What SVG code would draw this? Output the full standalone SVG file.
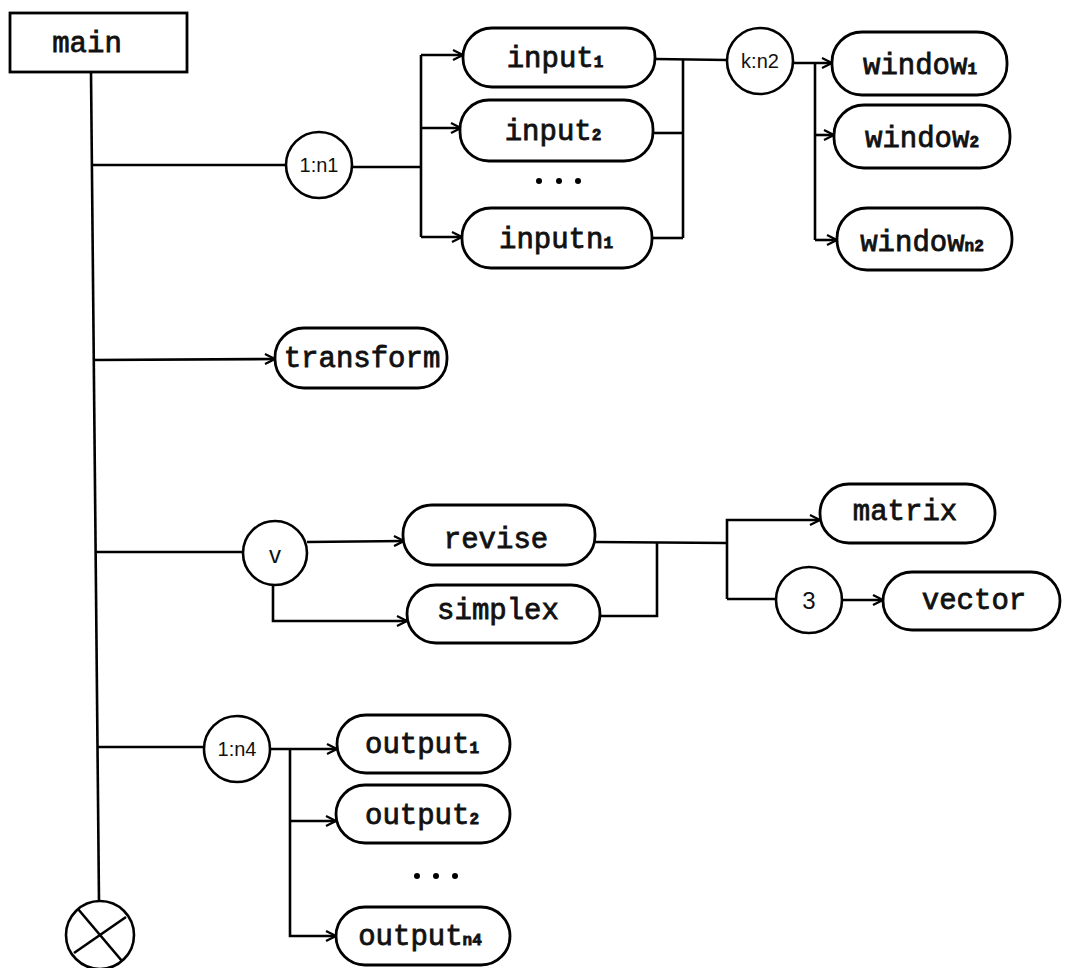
<svg xmlns="http://www.w3.org/2000/svg" width="1069" height="968" viewBox="0 0 1069 968">
<defs>
<marker id="ah" viewBox="0 0 12 12" refX="11" refY="6" markerWidth="12" markerHeight="12" markerUnits="userSpaceOnUse" orient="auto">
<path d="M1,1 L11,6 L1,11" fill="none" stroke="#000" stroke-width="2.2"/>
</marker>
<style>
.box{fill:#fff;stroke:#000;stroke-width:2.8}
.circ{fill:#fff;stroke:#000;stroke-width:2.6}
.ln{fill:none;stroke:#000;stroke-width:2.6}
.arr{fill:none;stroke:#000;stroke-width:2.6;marker-end:url(#ah)}
.t{font-family:"Liberation Mono","DejaVu Sans Mono",monospace;font-size:29px;font-weight:normal;fill:#111;stroke:#111;stroke-width:0.8;text-anchor:middle}
.s{font-size:16px;font-weight:bold}
.h{font-family:"Liberation Sans","DejaVu Sans",sans-serif;font-size:20px;fill:#111;text-anchor:middle}
.big{font-size:24px}
.dot{fill:#000}
</style>
</defs>
<g id="connectors">
<line class="ln" x1="91" y1="72" x2="99" y2="902"/>
<line class="ln" x1="92" y1="165" x2="286" y2="165"/>
<line class="ln" x1="352" y1="167" x2="421" y2="167"/>
<line class="ln" x1="421" y1="55" x2="421" y2="237"/>
<line class="arr" x1="421" y1="55" x2="463" y2="55"/>
<line class="arr" x1="421" y1="128" x2="461" y2="128"/>
<line class="arr" x1="421" y1="237" x2="462" y2="237"/>
<line class="ln" x1="655" y1="59" x2="727" y2="60"/>
<line class="ln" x1="653" y1="133" x2="683" y2="133"/>
<line class="ln" x1="652" y1="238" x2="683" y2="238"/>
<line class="ln" x1="683" y1="59" x2="683" y2="238"/>
<line class="ln" x1="815" y1="63" x2="815" y2="240"/>
<line class="arr" x1="793" y1="63" x2="832" y2="63"/>
<line class="arr" x1="815" y1="135" x2="834" y2="135"/>
<line class="arr" x1="815" y1="240" x2="837" y2="240"/>
<line class="arr" x1="93" y1="360" x2="275" y2="359"/>
<line class="ln" x1="95" y1="552" x2="243" y2="552"/>
<line class="arr" x1="307" y1="542" x2="404" y2="541"/>
<polyline class="arr" points="273,585 273,621 407,621"/>
<line class="ln" x1="595" y1="542" x2="727" y2="543"/>
<polyline class="ln" points="600,616 657,616 657,542"/>
<polyline class="arr" points="727,599 727,520 820,520"/>
<line class="ln" x1="727" y1="599" x2="776" y2="599"/>
<line class="arr" x1="842" y1="600" x2="883" y2="600"/>
<line class="ln" x1="97" y1="747" x2="204" y2="747"/>
<line class="arr" x1="270" y1="749" x2="337" y2="749"/>
<polyline class="arr" points="290,749 290,936 336,936"/>
<line class="arr" x1="290" y1="821" x2="336" y2="821"/>
</g>
<g id="main">
<rect class="box" x="10" y="13" width="177" height="59"/>
<text class="t" x="87" y="52">main</text>
</g>
<g id="n1">
<circle class="circ" cx="319" cy="165" r="33"/>
<text class="h" x="319" y="172">1:n1</text>
</g>
<g id="input1">
<rect class="box" x="463" y="28" width="192" height="59" rx="29"/>
<text class="t" x="555" y="67">input<tspan class="s">1</tspan></text>
</g>
<g id="input2">
<rect class="box" x="460" y="100" width="193" height="61" rx="29"/>
<text class="t" x="553" y="140">input<tspan class="s">2</tspan></text>
</g>
<g id="inputdots">
<circle class="dot" cx="539" cy="181" r="3"/>
<circle class="dot" cx="559" cy="181" r="3"/>
<circle class="dot" cx="578" cy="181" r="3"/>
</g>
<g id="inputn1">
<rect class="box" x="462" y="208" width="190" height="60" rx="29"/>
<text class="t" x="556" y="248">inputn<tspan class="s">1</tspan></text>
</g>
<g id="kn2">
<circle class="circ" cx="760" cy="61" r="33"/>
<text class="h" x="760" y="68">k:n2</text>
</g>
<g id="window1">
<rect class="box" x="832" y="32" width="175" height="63" rx="30"/>
<text class="t" x="920" y="74">window<tspan class="s">1</tspan></text>
</g>
<g id="window2">
<rect class="box" x="834" y="105" width="176" height="63" rx="30"/>
<text class="t" x="922" y="147">window<tspan class="s">2</tspan></text>
</g>
<g id="windown2">
<rect class="box" x="837" y="208" width="175" height="62" rx="30"/>
<text class="t" x="922" y="251">window<tspan class="s">n2</tspan></text>
</g>
<g id="transform">
<rect class="box" x="275" y="328" width="172" height="60" rx="29"/>
<text class="t" x="362" y="367">transform</text>
</g>
<g id="v">
<circle class="circ" cx="275" cy="553" r="32"/>
<text class="h big" x="275" y="563">v</text>
</g>
<g id="revise">
<rect class="box" x="403" y="505" width="192" height="60" rx="29"/>
<text class="t" x="496" y="548">revise</text>
</g>
<g id="simplex">
<rect class="box" x="407" y="585" width="193" height="58" rx="29"/>
<text class="t" x="498" y="619">simplex</text>
</g>
<g id="matrix">
<rect class="box" x="820" y="484" width="175" height="59" rx="29"/>
<text class="t" x="905" y="520">matrix</text>
</g>
<g id="three">
<circle class="circ" cx="809" cy="600" r="33"/>
<text class="h big" x="809" y="609">3</text>
</g>
<g id="vector">
<rect class="box" x="883" y="572" width="177" height="58" rx="29"/>
<text class="t" x="974" y="609">vector</text>
</g>
<g id="n4">
<circle class="circ" cx="237" cy="749" r="33"/>
<text class="h" x="237" y="756">1:n4</text>
</g>
<g id="output1">
<rect class="box" x="337" y="715" width="173" height="58" rx="29"/>
<text class="t" x="422" y="753">output<tspan class="s">1</tspan></text>
</g>
<g id="output2">
<rect class="box" x="336" y="785" width="174" height="58" rx="29"/>
<text class="t" x="422" y="824">output<tspan class="s">2</tspan></text>
</g>
<g id="outputdots">
<circle class="dot" cx="417" cy="876" r="3"/>
<circle class="dot" cx="436" cy="876" r="3"/>
<circle class="dot" cx="455" cy="876" r="3"/>
</g>
<g id="outputn4">
<rect class="box" x="336" y="907" width="174" height="58" rx="29"/>
<text class="t" x="420" y="945">output<tspan class="s">n4</tspan></text>
</g>
<g id="end">
<circle class="circ" cx="100" cy="935" r="34"/>
<line class="ln" x1="78" y1="909" x2="122" y2="961"/>
<line class="ln" x1="126" y1="917" x2="74" y2="953"/>
</g>
</svg>
